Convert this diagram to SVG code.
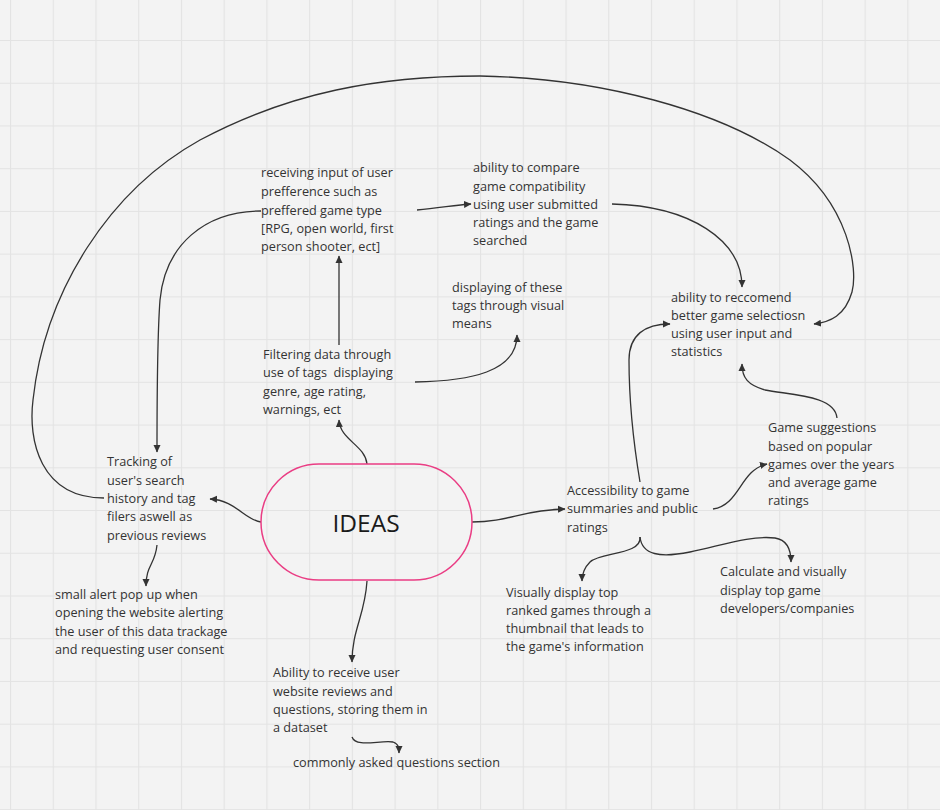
<svg xmlns="http://www.w3.org/2000/svg" width="940" height="810" viewBox="0 0 940 810">
<style>
.t{font-family:"Open Sans","Noto Sans","Liberation Sans",sans-serif;font-size:12.7px;fill:#333333;white-space:pre}
.big{font-family:"Open Sans","Noto Sans","Liberation Sans",sans-serif;font-size:24.5px;fill:#1a1a1a}
.c{fill:none;stroke:#333333;stroke-width:1.3;marker-end:url(#ah)}
</style>
<defs>
<pattern id="grid" patternUnits="userSpaceOnUse" x="10" y="40" width="42.73" height="42.73">
<path d="M0,0.5 H42.73 M0.5,0 V42.73" stroke="#e3e3e3" stroke-width="1.2" fill="none"/>
</pattern>
<marker id="ah" markerUnits="userSpaceOnUse" markerWidth="8" markerHeight="8" refX="7" refY="4" orient="auto">
<path d="M0,0.5 L7.5,4 L0,7.5 z" fill="#333333"/>
</marker>
</defs>
<rect width="940" height="810" fill="#f3f3f3"/>
<rect width="940" height="810" fill="url(#grid)"/>

<g id="connectors">
<path class="c" d="M104,498 C40,498 28,440 33,400 C45,290 110,190 200,140 C290,92 380,76 480,76 C600,78 720,110 790,160 C850,205 858,270 852,292 C845,316 830,322 814,324"/>
<path class="c" d="M261,211 C205,211 165,245 160,300 C157,340 157,400 157,452"/>
<path class="c" d="M417,210 C440,208 455,205 471,204"/>
<path class="c" d="M612,204 C690,206 742,240 742,287"/>
<path class="c" d="M339,345 L339,256"/>
<path class="c" d="M415,382 C470,381 517,372 517,335"/>
<path class="c" d="M367,464 C365,445 340,440 339,420"/>
<path class="c" d="M261,522 C245,520 235,500 210,499"/>
<path class="c" d="M157,545 C155,565 146,565 146,586"/>
<path class="c" d="M367,581 C365,615 352,630 352,662"/>
<path class="c" d="M352,737 C356,748 380,740 393,742 C399,744 399,748 399,753"/>
<path class="c" d="M472,522 C510,522 520,510 565,509"/>
<path class="c" d="M640,482 C633,440 629,400 629,360 C629,335 645,324 670,324"/>
<path class="c" d="M837,418 C835,395 790,395 765,390 C748,385 742,378 742,364"/>
<path class="c" d="M713,509 C740,505 740,470 767,464"/>
<path class="c" d="M640,537 C642,555 600,552 590,562 C584,568 582,574 582,581"/>
<path class="c" d="M640,537 C642,555 660,558 690,552 C720,546 750,535 775,538 C788,540 791,552 791,562"/>
</g>

<g id="ideas">
<rect x="261" y="464" width="211" height="116" rx="58" ry="58" fill="none" stroke="#ea3d84" stroke-width="1.5"/>
<text class="big" x="366" y="532" text-anchor="middle">IDEAS</text>
</g>

<g id="user-preference">
<text class="t" x="261" y="177">receiving input of user</text>
<text class="t" x="261" y="196">prefference such as</text>
<text class="t" x="261" y="214.5">preffered game type</text>
<text class="t" x="261" y="233">[RPG, open world, first</text>
<text class="t" x="261" y="251">person shooter, ect]</text>
</g>

<g id="compare">
<text class="t" x="473" y="172">ability to compare</text>
<text class="t" x="473" y="190.5">game compatibility</text>
<text class="t" x="473" y="209">using user submitted</text>
<text class="t" x="473" y="227">ratings and the game</text>
<text class="t" x="473" y="245">searched</text>
</g>

<g id="display-tags">
<text class="t" x="452" y="291.5">displaying of these</text>
<text class="t" x="452" y="310">tags through visual</text>
<text class="t" x="452" y="328">means</text>
</g>

<g id="recommend">
<text class="t" x="671" y="301.5">ability to reccomend</text>
<text class="t" x="671" y="320">better game selectiosn</text>
<text class="t" x="671" y="338">using user input and</text>
<text class="t" x="671" y="356">statistics</text>
</g>

<g id="filtering">
<text class="t" x="263" y="359">Filtering data through</text>
<text class="t" x="263" y="377">use of tags  displaying</text>
<text class="t" x="263" y="395.5">genre, age rating,</text>
<text class="t" x="263" y="414">warnings, ect</text>
</g>

<g id="tracking">
<text class="t" x="107" y="466">Tracking of</text>
<text class="t" x="107" y="484.5">user's search</text>
<text class="t" x="107" y="503">history and tag</text>
<text class="t" x="107" y="521">filers aswell as</text>
<text class="t" x="107" y="539.5">previous reviews</text>
</g>

<g id="accessibility">
<text class="t" x="567" y="494.5">Accessibility to game</text>
<text class="t" x="567" y="513">summaries and public</text>
<text class="t" x="567" y="531.5">ratings</text>
</g>

<g id="suggestions">
<text class="t" x="768" y="432">Game suggestions</text>
<text class="t" x="768" y="450.5">based on popular</text>
<text class="t" x="768" y="469">games over the years</text>
<text class="t" x="768" y="487">and average game</text>
<text class="t" x="768" y="505">ratings</text>
</g>

<g id="top-ranked">
<text class="t" x="506" y="596.5">Visually display top</text>
<text class="t" x="506" y="615">ranked games through a</text>
<text class="t" x="506" y="633">thumbnail that leads to</text>
<text class="t" x="506" y="651">the game's information</text>
</g>

<g id="developers">
<text class="t" x="720" y="576">Calculate and visually</text>
<text class="t" x="720" y="594.5">display top game</text>
<text class="t" x="720" y="613">developers/companies</text>
</g>

<g id="alert">
<text class="t" x="55" y="599">small alert pop up when</text>
<text class="t" x="55" y="617">opening the website alerting</text>
<text class="t" x="55" y="635.5">the user of this data trackage</text>
<text class="t" x="55" y="654">and requesting user consent</text>
</g>

<g id="reviews">
<text class="t" x="273" y="677">Ability to receive user</text>
<text class="t" x="273" y="695.5">website reviews and</text>
<text class="t" x="273" y="714">questions, storing them in</text>
<text class="t" x="273" y="732">a dataset</text>
</g>

<g id="faq">
<text class="t" x="293" y="767">commonly asked questions section</text>
</g>
</svg>
